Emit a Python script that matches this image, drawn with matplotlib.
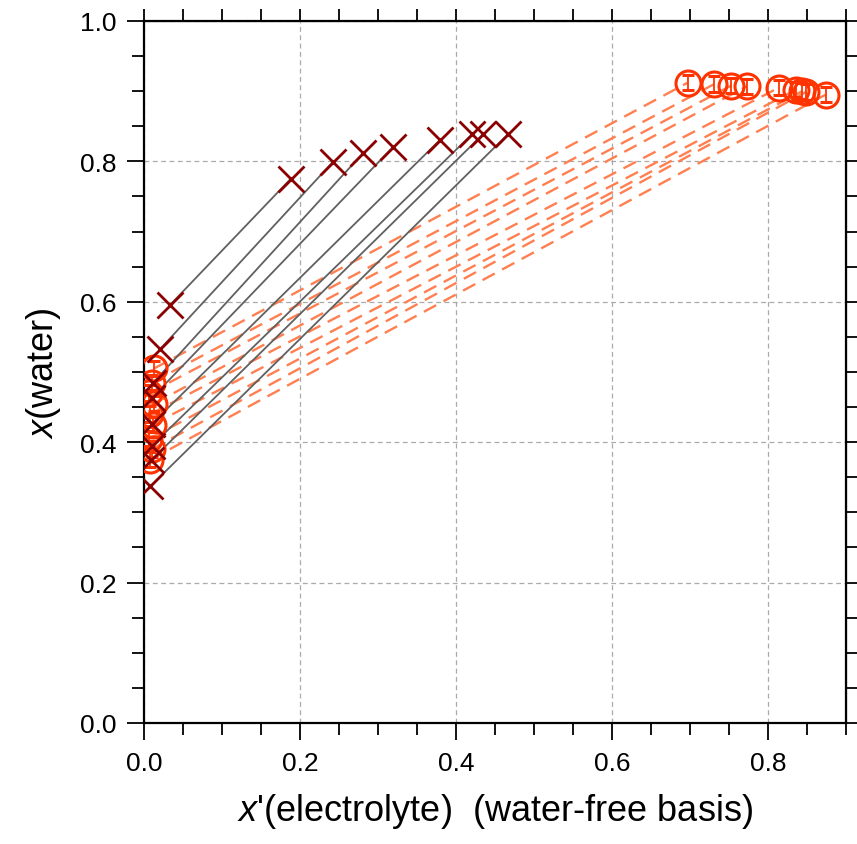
import numpy as np
import matplotlib
matplotlib.use("Agg")
import matplotlib.pyplot as plt

plt.rcParams['font.family'] = ['Liberation Sans', 'DejaVu Sans']
plt.rcParams['mathtext.fontset'] = 'custom'
plt.rcParams['mathtext.it'] = 'Liberation Sans:italic'
plt.rcParams['mathtext.rm'] = 'Liberation Sans'
plt.rcParams['lines.scale_dashes'] = False

# tie lines, phase 1 (crosses): lower end / upper end
x_low1 = [0.033, 0.021, 0.012, 0.010, 0.010, 0.010, 0.009, 0.008]
y_low1 = [0.595, 0.533, 0.485, 0.463, 0.426, 0.395, 0.374, 0.337]
x_up1 = [0.188, 0.242, 0.281, 0.319, 0.379, 0.421, 0.435, 0.467]
y_up1 = [0.775, 0.799, 0.812, 0.820, 0.830, 0.839, 0.839, 0.839]

# tie lines, phase 2 (circles): lower end / upper end
x_low2 = [0.013, 0.010, 0.007, 0.013, 0.008, 0.011, 0.007, 0.010, 0.008]
y_low2 = [0.505, 0.485, 0.470, 0.455, 0.440, 0.425, 0.405, 0.390, 0.375]
x_up2 = [0.697, 0.731, 0.753, 0.773, 0.814, 0.836, 0.844, 0.849, 0.874]
y_up2 = [0.912, 0.910, 0.908, 0.907, 0.905, 0.902, 0.900, 0.899, 0.895]
yerr2 = 0.011

cross_color = '#8b0000'
circle_color = '#ff3300'
dash_color = '#ff7f50'
tie_color = '#606060'

fig = plt.figure(figsize=(8.57, 8.45), dpi=100)
ax = fig.add_axes([0.168, 0.1432, 0.819, 0.8308])

# dashed tie lines for circles
for i in range(len(x_low2)):
    ax.plot([x_low2[i], x_up2[i]], [y_low2[i], y_up2[i]], color=dash_color,
            lw=1.7, dashes=(10, 6), zorder=2)

# solid tie lines for crosses
for i in range(len(x_low1)):
    ax.plot([x_low1[i], x_up1[i]], [y_low1[i], y_up1[i]], color=tie_color,
            lw=1.3, zorder=3)

# circles with error bars
xc = x_low2 + x_up2
yc = y_low2 + y_up2
ax.errorbar(xc, yc, yerr=yerr2, fmt='o', ms=18, mfc='none', mec=circle_color,
            mew=2.2, ecolor=circle_color, elinewidth=1.3, capsize=4,
            capthick=1.3, zorder=4)

# crosses
ax.plot(x_low1 + x_up1, y_low1 + y_up1, 'x', ms=19, mew=2.0,
        color=cross_color, linestyle='none', zorder=5)

ax.set_xlim(0, 0.9)
ax.set_ylim(0, 1.0)
ax.set_xticks(np.arange(0, 0.81, 0.2))
ax.set_yticks(np.arange(0, 1.01, 0.2))
ax.set_xticks(np.arange(0, 0.91, 0.05), minor=True)
ax.set_yticks(np.arange(0, 1.01, 0.05), minor=True)
ax.set_xticklabels(['0.0', '0.2', '0.4', '0.6', '0.8'])
ax.set_yticklabels(['0.0', '0.2', '0.4', '0.6', '0.8', '1.0'])
ax.tick_params(which='both', direction='out', labelsize=19, width=1.3, pad=8)
ax.tick_params(which='major', length=12)
ax.tick_params(which='minor', length=8.5)
for s in ax.spines.values():
    s.set_linewidth(1.6)

# top and right ticks, all the same length
top = ax.secondary_xaxis('top')
top.set_xticks(np.arange(0, 0.91, 0.05))
top.tick_params(direction='out', length=8.5, width=1.3, labeltop=False)
right = ax.secondary_yaxis('right')
right.set_yticks(np.arange(0, 1.01, 0.05))
right.tick_params(direction='out', length=8.5, width=1.3, labelright=False)

ax.grid(True, which='major', color='#aaaaaa', lw=0.9, dashes=(3.5, 2.5))
ax.set_axisbelow(True)

ax.set_xlabel("$x$'(electrolyte)  (water-free basis)", fontsize=26, labelpad=12)
ax.set_ylabel("$x$(water)", fontsize=26, labelpad=12)

fig.savefig('out.png', dpi=100)
